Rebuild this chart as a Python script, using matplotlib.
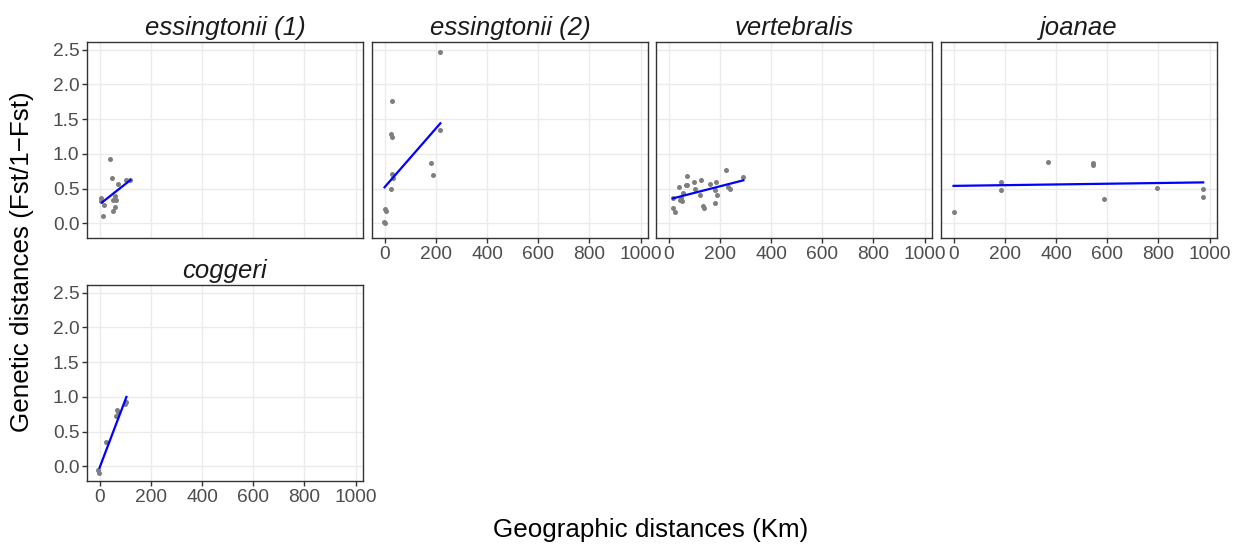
import numpy as np
import matplotlib
matplotlib.use("Agg")
import matplotlib.pyplot as plt

plt.rcParams["font.family"] = ["Liberation Sans", "DejaVu Sans"]

titles = ["essingtonii (1)", "essingtonii (2)", "vertebralis", "joanae", "coggeri"]

ess1_x = [40, 47, 71, 104, 117, 4, 6, 17, 12, 60, 53, 66, 60, 54]
ess1_y = [0.92, 0.65, 0.56, 0.62, 0.62, 0.37, 0.32, 0.26, 0.10, 0.40, 0.33, 0.33, 0.23, 0.18]

ess2_x = [217, 30, 26, 31, 217, 183, 188, 30, 32, 26, 0, 4, -4, 1]
ess2_y = [2.47, 1.76, 1.28, 1.25, 1.35, 0.865, 0.70, 0.71, 0.65, 0.50, 0.21, 0.185, 0.02, 0.0]

vert_x = [17, 27, 16, 39, 56, 48, 52, 43, 74, 69, 74, 101, 104, 125, 123, 134, 140,
          162, 184, 182, 188, 181, 223, 234, 240, 292]
vert_y = [0.22, 0.17, 0.36, 0.52, 0.44, 0.36, 0.32, 0.33, 0.68, 0.55, 0.55, 0.59, 0.49,
          0.62, 0.41, 0.25, 0.22, 0.57, 0.60, 0.48, 0.41, 0.30, 0.77, 0.53, 0.50, 0.67]

joan_x = [0, 184, 184, 368, 545, 545, 587, 795, 975, 975]
joan_y = [0.16, 0.60, 0.48, 0.88, 0.87, 0.84, 0.35, 0.51, 0.50, 0.385]

cogg_x = [-5, -4, 27, 69, 71, 66, 104, 101]
cogg_y = [-0.05, -0.09, 0.355, 0.815, 0.78, 0.73, 0.92, 0.90]

# fitted lines (lm): start/end x and y
fit_x = [[9, 121], [0, 218], [17, 292], [0, 975], [0, 105]]
fit_y = [[0.30, 0.625], [0.52, 1.44], [0.36, 0.62], [0.54, 0.59], [-0.02, 1.00]]

data = [(ess1_x, ess1_y), (ess2_x, ess2_y), (vert_x, vert_y), (joan_x, joan_y), (cogg_x, cogg_y)]

W, H = 1235, 548
fig = plt.figure(figsize=(W / 100, H / 100), dpi=100)

lefts = [87, 372, 656, 941, 87]
tops = [42, 42, 42, 42, 285]
pw, ph = 276, 196

for i, (title, (x, y)) in enumerate(zip(titles, data)):
    ax = fig.add_axes([lefts[i] / W, 1 - (tops[i] + ph) / H, pw / W, ph / H])
    ax.scatter(x, y, s=13, color="#7f7f7f", lw=0, zorder=3)
    ax.plot(fit_x[i], fit_y[i], color="#0000ff", lw=1.6, zorder=4)
    ax.set_xlim(-49, 1029)
    ax.set_ylim(-0.21, 2.61)
    ax.set_xticks([0, 200, 400, 600, 800, 1000])
    ax.set_yticks([0, 0.5, 1.0, 1.5, 2.0, 2.5])
    ax.grid(True, color="#ebebeb", lw=1.0)
    ax.set_axisbelow(True)
    for s in ax.spines.values():
        s.set_color("#333333")
        s.set_linewidth(1.0)
    ax.tick_params(colors="#333333", labelcolor="#4d4d4d", labelsize=13.8, length=3.5, width=1.0, pad=2)
    ax.set_title(title, style="italic", fontsize=18.5, pad=5, color="#1a1a1a")
    if i in (0, 4):
        ax.set_yticklabels(["0.0", "0.5", "1.0", "1.5", "2.0", "2.5"])
    else:
        ax.tick_params(axis="y", left=False, labelleft=False)
    if i == 0:
        ax.tick_params(axis="x", bottom=False, labelbottom=False)

fig.text(22 / W, 1 - 262 / H, "Genetic distances (Fst/1\u2212Fst)", rotation=90,
         ha="center", va="center", fontsize=18.7)
fig.text(651 / W, 1 - 530 / H, "Geographic distances (Km)", ha="center", va="center", fontsize=18.7)

fig.savefig("out.png", dpi=100, facecolor="white")
